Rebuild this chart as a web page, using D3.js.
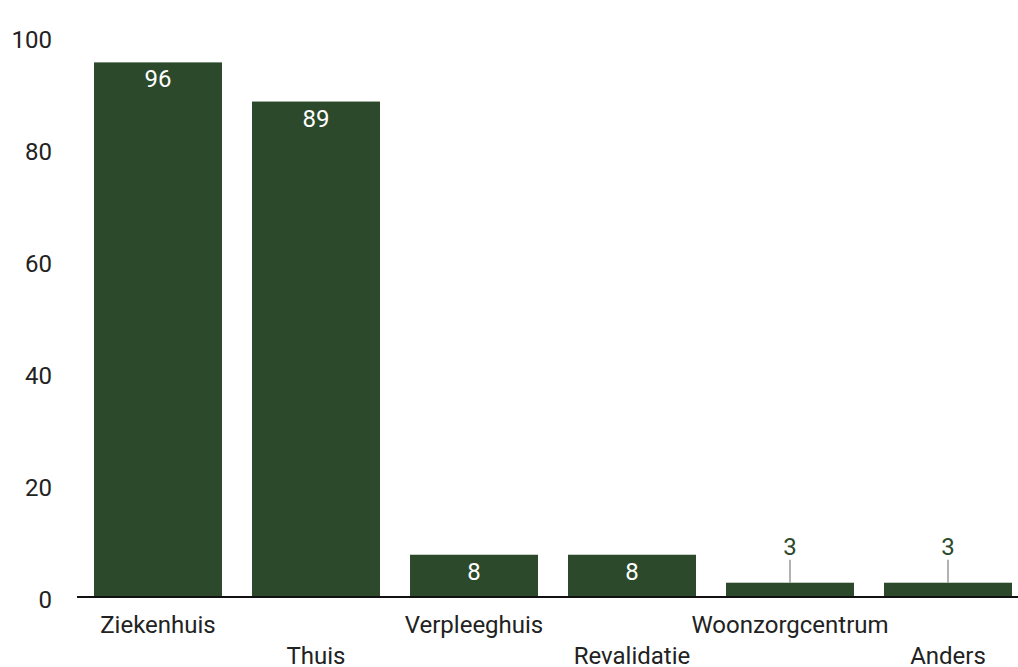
<!DOCTYPE html>
<html><head><meta charset="utf-8">
<script src="https://cdn.jsdelivr.net/npm/d3@7"></script>
<style>body{margin:0;background:#fff}svg{display:block;font-family:Roboto,"Noto Sans",sans-serif}</style>
</head><body><svg id="c" width="1018" height="667"></svg>
<script>
const categories = ["Ziekenhuis","Thuis","Verpleeghuis","Revalidatie","Woonzorgcentrum","Anders"];
const values = [96, 89, 8, 8, 3, 3];
const yTicks = [0, 20, 40, 60, 80, 100];

const svg = d3.select("#c");
const x = d3.scaleBand().domain(categories).range([79, 1027]).paddingInner(0.19).paddingOuter(0.095);
const y = d3.scaleLinear().domain([0, 100]).range([599.5, 40]);
const baseY = 597;
const color = "#2c4a2b";
const fs = 24;

// y tick labels
svg.append("g").selectAll("text").data(yTicks).join("text")
  .attr("x", 52).attr("y", d => y(d)).attr("dy", "0.35em")
  .attr("text-anchor", "end").attr("font-size", fs).attr("fill", "#222")
  .text(d => d);

// bars
svg.append("g").selectAll("rect").data(values).join("rect")
  .attr("x", (d,i) => x(categories[i]))
  .attr("width", x.bandwidth())
  .attr("y", d => y(d))
  .attr("height", d => baseY - y(d))
  .attr("fill", color);

// axis line
svg.append("line").attr("x1", 77).attr("x2", 1018).attr("y1", baseY).attr("y2", baseY)
  .attr("stroke", "#111").attr("stroke-width", 2);

// value labels
const g = svg.append("g");
values.forEach((v, i) => {
  const cx = x(categories[i]) + x.bandwidth()/2;
  const h = baseY - y(v);
  if (h > 30) {
    g.append("text").attr("x", cx).attr("y", y(v) + 25).attr("text-anchor", "middle")
      .attr("font-size", fs).attr("fill", "#fff").text(v);
  } else {
    g.append("line").attr("x1", cx).attr("x2", cx).attr("y1", y(v)).attr("y2", y(v) - 23)
      .attr("stroke", "#999").attr("stroke-width", 1.5);
    g.append("text").attr("x", cx).attr("y", y(v) - 28).attr("text-anchor", "middle")
      .attr("font-size", fs).attr("fill", color).text(v);
  }
});

// category labels (staggered)
svg.append("g").selectAll("text").data(categories).join("text")
  .attr("x", d => x(d) + x.bandwidth()/2)
  .attr("y", (d,i) => i % 2 === 0 ? 633 : 664)
  .attr("text-anchor", "middle").attr("font-size", fs).attr("fill", "#222")
  .text(d => d);
</script></body></html>
